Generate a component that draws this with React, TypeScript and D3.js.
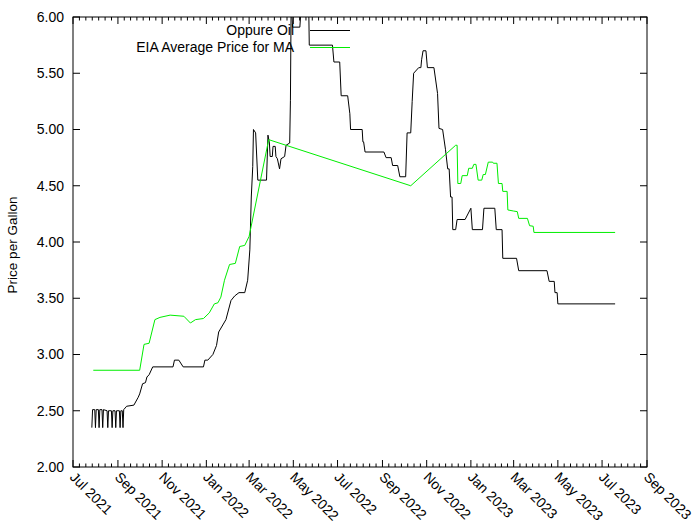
import React from "react";
import * as d3 from "d3";

// Oppure Oil price per gallon (date, price)
const oppureOil: [string, number][] = [
  ["2021-07-27", 2.35], ["2021-07-28", 2.51], ["2021-07-31", 2.51], ["2021-08-01", 2.35], ["2021-08-02", 2.51],
  ["2021-08-05", 2.51], ["2021-08-06", 2.35], ["2021-08-07", 2.51], ["2021-08-10", 2.51], ["2021-08-11", 2.35],
  ["2021-08-12", 2.51], ["2021-08-17", 2.50], ["2021-08-18", 2.35], ["2021-08-19", 2.50], ["2021-08-23", 2.50],
  ["2021-08-24", 2.35], ["2021-08-25", 2.50], ["2021-08-28", 2.50], ["2021-08-29", 2.35], ["2021-08-30", 2.50],
  ["2021-09-03", 2.50], ["2021-09-04", 2.35], ["2021-09-05", 2.50], ["2021-09-07", 2.50], ["2021-09-08", 2.35],
  ["2021-09-09", 2.51], ["2021-09-13", 2.54], ["2021-09-23", 2.55], ["2021-09-29", 2.62], ["2021-10-01", 2.65],
  ["2021-10-05", 2.74], ["2021-10-09", 2.75], ["2021-10-11", 2.80], ["2021-10-14", 2.82], ["2021-10-19", 2.89],
  ["2021-11-16", 2.89], ["2021-11-18", 2.95], ["2021-11-24", 2.95], ["2021-11-30", 2.89], ["2021-12-28", 2.89],
  ["2021-12-30", 2.95], ["2022-01-03", 2.95], ["2022-01-10", 3.00], ["2022-01-15", 3.08], ["2022-01-18", 3.20],
  ["2022-01-28", 3.31], ["2022-02-04", 3.48], ["2022-02-09", 3.52], ["2022-02-15", 3.55], ["2022-02-23", 3.55],
  ["2022-02-27", 3.66], ["2022-03-02", 3.93], ["2022-03-04", 4.40], ["2022-03-06", 4.67], ["2022-03-07", 5.00],
  ["2022-03-10", 4.97], ["2022-03-13", 4.55], ["2022-03-25", 4.55], ["2022-03-27", 4.95], ["2022-03-29", 4.88],
  ["2022-03-30", 4.76], ["2022-04-02", 4.76], ["2022-04-03", 4.85], ["2022-04-06", 4.85], ["2022-04-07", 4.76],
  ["2022-04-09", 4.74], ["2022-04-12", 4.65], ["2022-04-14", 4.74], ["2022-04-19", 4.76], ["2022-04-21", 4.86],
  ["2022-04-26", 4.88], ["2022-04-27", 5.26], ["2022-04-28", 6.15], ["2022-04-30", 5.91], ["2022-05-10", 5.91],
  ["2022-05-13", 6.20], ["2022-05-22", 6.20], ["2022-05-23", 5.75], ["2022-06-24", 5.75], ["2022-06-26", 5.60],
  ["2022-07-04", 5.60], ["2022-07-06", 5.30], ["2022-07-15", 5.30], ["2022-07-18", 5.14], ["2022-07-19", 5.00],
  ["2022-08-04", 5.00], ["2022-08-05", 4.89], ["2022-08-06", 4.89], ["2022-08-08", 4.80], ["2022-09-03", 4.80],
  ["2022-09-06", 4.75], ["2022-09-13", 4.75], ["2022-09-15", 4.68], ["2022-09-22", 4.68], ["2022-09-25", 4.58],
  ["2022-10-03", 4.58], ["2022-10-05", 4.97], ["2022-10-10", 4.97], ["2022-10-12", 5.25], ["2022-10-14", 5.50],
  ["2022-10-21", 5.55], ["2022-10-24", 5.55], ["2022-10-25", 5.62], ["2022-10-27", 5.70], ["2022-10-31", 5.70],
  ["2022-11-02", 5.55], ["2022-11-11", 5.55], ["2022-11-16", 5.32], ["2022-11-18", 5.01], ["2022-11-23", 5.00],
  ["2022-11-27", 4.82], ["2022-11-30", 4.65], ["2022-12-02", 4.65], ["2022-12-04", 4.40], ["2022-12-06", 4.40],
  ["2022-12-07", 4.11], ["2022-12-11", 4.11], ["2022-12-13", 4.20], ["2022-12-24", 4.20], ["2023-01-01", 4.30],
  ["2023-01-03", 4.11], ["2023-01-17", 4.11], ["2023-01-19", 4.30], ["2023-02-03", 4.30], ["2023-02-05", 4.11],
  ["2023-02-13", 4.11], ["2023-02-14", 3.855], ["2023-03-05", 3.855], ["2023-03-08", 3.745], ["2023-04-16", 3.745],
  ["2023-04-19", 3.65], ["2023-04-26", 3.65], ["2023-04-27", 3.55], ["2023-04-30", 3.55], ["2023-05-01", 3.45],
  ["2023-07-19", 3.45],
];

// EIA average price for MA (date, price)
const eiaAverageMA: [string, number][] = [
  ["2021-07-29", 2.86], ["2021-10-01", 2.86], ["2021-10-07", 3.09], ["2021-10-14", 3.10], ["2021-10-22", 3.31],
  ["2021-10-29", 3.33], ["2021-11-12", 3.35], ["2021-12-01", 3.34], ["2021-12-10", 3.28], ["2021-12-17", 3.31],
  ["2021-12-28", 3.32], ["2022-01-05", 3.37], ["2022-01-12", 3.45], ["2022-01-17", 3.46], ["2022-01-21", 3.51],
  ["2022-01-26", 3.66], ["2022-02-02", 3.80], ["2022-02-10", 3.81], ["2022-02-16", 3.96], ["2022-02-23", 3.97],
  ["2022-03-01", 4.05], ["2022-03-28", 4.91], ["2022-10-10", 4.50], ["2022-12-11", 4.86], ["2022-12-13", 4.86],
  ["2022-12-14", 4.52], ["2022-12-18", 4.52], ["2022-12-20", 4.59], ["2022-12-27", 4.59], ["2022-12-29", 4.655],
  ["2023-01-03", 4.655], ["2023-01-05", 4.69], ["2023-01-08", 4.69], ["2023-01-11", 4.55], ["2023-01-16", 4.55],
  ["2023-01-18", 4.60], ["2023-01-21", 4.60], ["2023-01-25", 4.71], ["2023-01-31", 4.71], ["2023-02-01", 4.70],
  ["2023-02-06", 4.70], ["2023-02-08", 4.52], ["2023-02-13", 4.52], ["2023-02-14", 4.45], ["2023-02-20", 4.45],
  ["2023-02-21", 4.285], ["2023-03-01", 4.275], ["2023-03-06", 4.27], ["2023-03-08", 4.21], ["2023-03-20", 4.21],
  ["2023-03-23", 4.145], ["2023-03-28", 4.14], ["2023-03-29", 4.085], ["2023-07-19", 4.085],
];

const seriesNames = ["Oppure Oil", "EIA Average Price for MA"];
const yTickValues = [2.0, 2.5, 3.0, 3.5, 4.0, 4.5, 5.0, 5.5, 6.0];
const xDomain = ["2021-07-01", "2023-09-01"];
const yDomain = [2.0, 6.0];
const yAxisTitle = "Price per Gallon";

const W = 700;
const H = 525;
const M = { left: 73, right: 53, top: 17, bottom: 58 };
const FONT = "'Liberation Sans', Arial, sans-serif";

export default function App() {
  const parse = d3.utcParse("%Y-%m-%d");
  const x = d3
    .scaleUtc()
    .domain(xDomain.map((d) => parse(d) as Date))
    .range([M.left, W - M.right]);
  const y = d3.scaleLinear().domain(yDomain).range([H - M.bottom, M.top]);

  const line = d3
    .line<[string, number]>()
    .x((d) => x(parse(d[0]) as Date))
    .y((d) => y(d[1]));

  const majors = x.ticks(d3.utcMonth.every(2) as any);
  const minors: Date[] = [];
  for (let i = 0; i < majors.length - 1; i++) {
    const a = majors[i].getTime();
    const b = majors[i + 1].getTime();
    for (let k = 1; k < 7; k++) minors.push(new Date(a + ((b - a) * k) / 7));
  }
  const fmt = d3.utcFormat("%b %Y");
  const left = M.left;
  const right = W - M.right;
  const top = M.top;
  const bottom = H - M.bottom;
  const majorLen = 7;
  const minorLen = 3.5;
  const axisColor = "#000";
  const fs = 14;

  return (
    <svg
      width={W}
      height={H}
      style={{ position: "absolute", left: 0, top: 0, background: "#fff" }}
      fontFamily={FONT}
    >
      <defs>
        <clipPath id="plotclip">
          <rect x={left} y={top} width={right - left} height={bottom - top} />
        </clipPath>
      </defs>
      <rect x={0} y={0} width={W} height={H} fill="#fff" />

      {/* y ticks */}
      {yTickValues.map((v) => (
        <g key={"y" + v}>
          <line x1={left} x2={left + majorLen} y1={y(v)} y2={y(v)} stroke={axisColor} />
          <line x1={right} x2={right - majorLen} y1={y(v)} y2={y(v)} stroke={axisColor} />
          <text x={left - 9} y={y(v)} dy="0.35em" textAnchor="end" fontSize={fs} fill="#000">
            {v.toFixed(2)}
          </text>
        </g>
      ))}

      {/* x ticks */}
      {majors.map((d) => (
        <g key={"x" + d.getTime()}>
          <line x1={x(d)} x2={x(d)} y1={bottom} y2={bottom - majorLen} stroke={axisColor} />
          <line x1={x(d)} x2={x(d)} y1={top} y2={top + majorLen} stroke={axisColor} />
          <text
            transform={`translate(${x(d) - 4},${bottom + 11}) rotate(45)`}
            fontSize={fs}
            textAnchor="start"
            fill="#000"
          >
            {fmt(d)}
          </text>
        </g>
      ))}
      {minors.map((d) => (
        <g key={"m" + d.getTime()}>
          <line x1={x(d)} x2={x(d)} y1={bottom} y2={bottom - minorLen} stroke={axisColor} />
          <line x1={x(d)} x2={x(d)} y1={top} y2={top + minorLen} stroke={axisColor} />
        </g>
      ))}

      {/* y axis title */}
      <text
        transform={`translate(17,${(top + bottom) / 2 + 3}) rotate(-90)`}
        textAnchor="middle"
        fontSize={13.5}
        fill="#000"
      >
        {yAxisTitle}
      </text>

      {/* data */}
      <g clipPath="url(#plotclip)">
        <path d={line(oppureOil) || ""} fill="none" stroke="#000" strokeWidth={1} />
        <path d={line(eiaAverageMA) || ""} fill="none" stroke="#00ee00" strokeWidth={1} />
      </g>

      {/* legend */}
      <text x={294} y={34.5} textAnchor="end" fontSize={fs} fill="#000">
        {seriesNames[0]}
      </text>
      <line x1={310} x2={350} y1={30.5} y2={30.5} stroke="#000" />
      <text x={294} y={51.5} textAnchor="end" fontSize={fs} fill="#000">
        {seriesNames[1]}
      </text>
      <line x1={310} x2={350} y1={47.5} y2={47.5} stroke="#00ee00" />

      {/* border */}
      <rect x={left} y={top} width={right - left} height={bottom - top} fill="none" stroke={axisColor} />
    </svg>
  );
}
